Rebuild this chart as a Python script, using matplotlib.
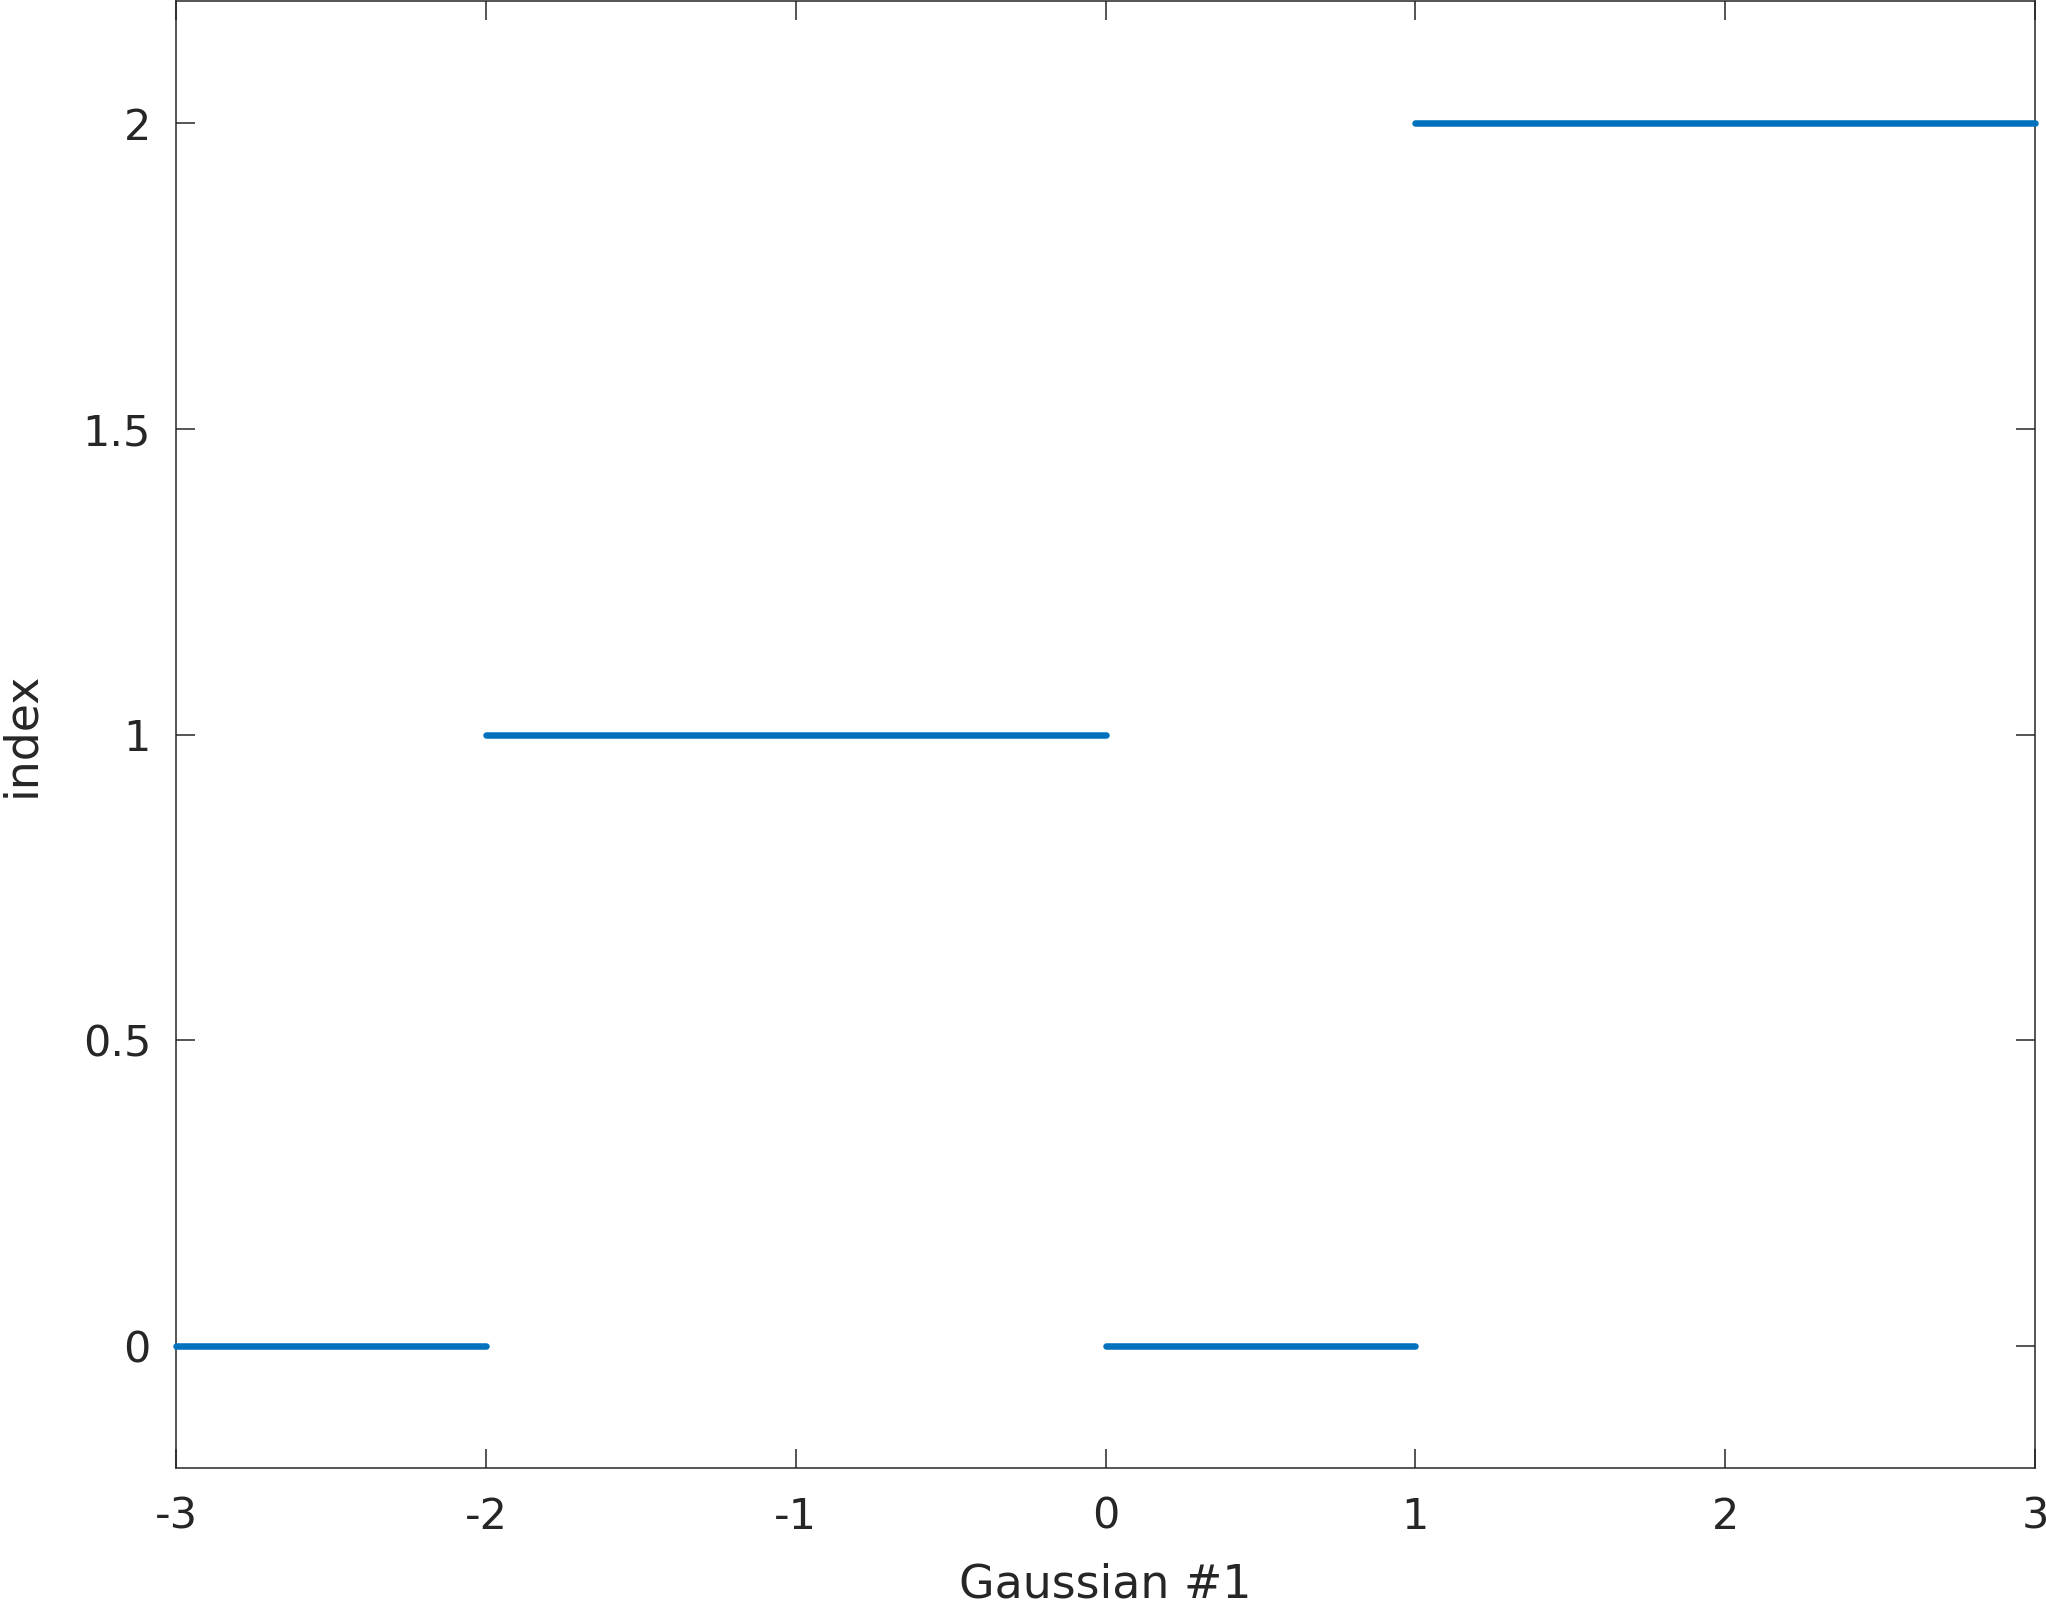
import numpy as np
import matplotlib.pyplot as plt

# piecewise index segments
seg_start = [-3, -2, 0, 1]
seg_end = [-2, 0, 1, 3]
seg_index = [0, 1, 0, 2]

xticks = [-3, -2, -1, 0, 1, 2, 3]
yticks = [0, 0.5, 1, 1.5, 2]
ytick_labels = ['0', '0.5', '1', '1.5', '2']

plt.rcParams['font.family'] = 'DejaVu Sans'
txt = '#262626'

fig = plt.figure(figsize=(20.46, 16.09), dpi=100)
ax = fig.add_axes([176 / 2046, 141 / 1609, 1859 / 2046, 1467 / 1609])

for x0, x1, v in zip(seg_start, seg_end, seg_index):
    ax.plot([x0, x1], [v, v], color='#0072BD', lw=4.7, solid_capstyle='round', clip_on=False, zorder=3)

ax.set_xlim(-3, 3)
ax.set_ylim(-0.2, 2.2)
ax.set_xticks(xticks)
ax.set_xticklabels([str(t) for t in xticks])
ax.set_yticks(yticks)
ax.set_yticklabels(ytick_labels)

ax.tick_params(direction='in', length=14, width=1.1, colors=txt, labelsize=31,
               top=True, right=True)
ax.tick_params(axis='x', pad=20)
ax.tick_params(axis='y', pad=18)
for s in ax.spines.values():
    s.set_color(txt)
    s.set_linewidth(1.1)

ax.set_xlabel('Gaussian #1', fontsize=33, color=txt, labelpad=18)
ax.set_ylabel('index', fontsize=33, color=txt, labelpad=28)

fig.savefig('out.png', dpi=100)
